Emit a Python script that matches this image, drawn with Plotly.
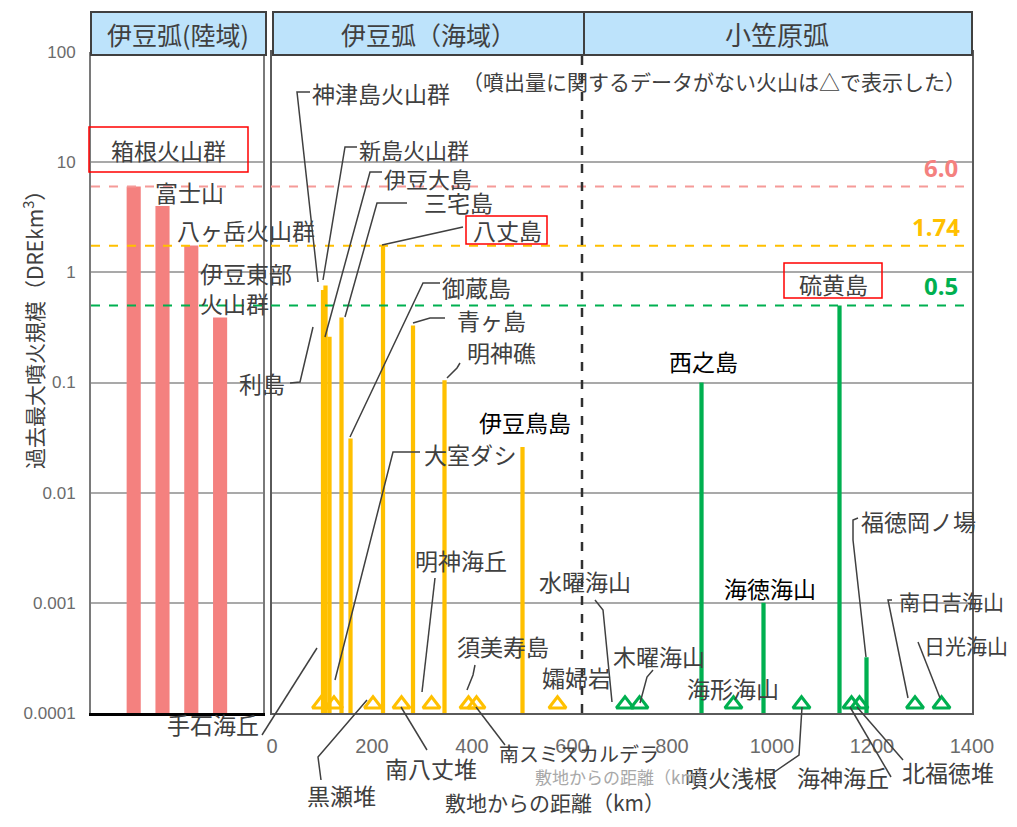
import math
import plotly.graph_objects as go

# ---------------- data ----------------
land_names = ["箱根火山群", "富士山", "八ヶ岳火山群", "伊豆東部火山群"]
land_dre = [6.0, 4.0, 1.75, 0.39]

izu_bar_names = ["神津島火山群", "新島火山群", "伊豆大島", "三宅島", "御蔵島",
                 "八丈島", "青ヶ島", "明神礁", "伊豆鳥島"]
izu_bar_km = [102, 107, 115, 139, 157, 222, 282, 345, 501]
izu_bar_dre = [0.69, 0.76, 0.26, 0.39, 0.031, 1.74, 0.33, 0.105, 0.026]

izu_tri_names = ["手石海丘", "大室ダシ", "黒瀬堆", "南八丈堆", "明神海丘",
                 "須美寿島", "南スミスカルデラ", "孀婦岩"]
izu_tri_km = [98, 124, 202, 259, 319, 393, 409, 571]

ogs_bar_names = ["西之島", "海徳海山", "硫黄島", "福徳岡ノ場"]
ogs_bar_km = [859, 983, 1135, 1189]
ogs_bar_dre = [0.1, 0.001, 0.5, 0.00032]

ogs_tri_names = ["水曜海山", "木曜海山", "海形海山", "噴火浅根", "海神海丘",
                 "北福徳堆", "南日吉海山", "日光海山"]
ogs_tri_km = [706, 735, 923, 1059, 1159, 1175, 1286, 1339]

ref_dre = [6.0, 1.74, 0.5]
ref_text = ["6.0", "1.74", "0.5"]

y_tickvals = [0.0001, 0.001, 0.01, 0.1, 1, 10, 100]
y_ticktext = ["0.0001", "0.001", "0.01", "0.1", "1", "10", "100"]
x_tickvals = [0, 200, 400, 600, 800, 1000, 1200, 1400]
arc_boundary_km = 620

# ---------------- styling / layout helpers ----------------
PAGE_W, PAGE_H = 1017, 827
BODY_MARGIN = 8                      # default page margin around the plot div
W, H = PAGE_W - 2 * BODY_MARGIN, PAGE_H - 2 * BODY_MARGIN
PINK = "#F4817F"
PINK_LINE = "#F59A98"
YELLOW = "#FFC000"
GREEN = "#00B050"
TXT = "#404040"
JP = "Noto Sans CJK JP, Noto Sans, sans-serif"
NARROW = "Liberation Sans Narrow, Arial Narrow, sans-serif"
NODATA_Y = 1.2e-4   # plotting level for "no data" triangles
LBL = 23


def px(x):
    """page pixel x -> paper fraction"""
    return (x - BODY_MARGIN) / W


def py(y):
    """page pixel y -> paper fraction"""
    return 1 - (y - BODY_MARGIN) / H


PLOT_TOP, PLOT_BOT = 52, 713
ydom = [py(PLOT_BOT), py(PLOT_TOP)]

fig = go.Figure()

fig.add_trace(go.Bar(x=land_names, y=land_dre, xaxis="x", yaxis="y",
                     marker=dict(color=PINK, line=dict(width=0)), width=0.49,
                     name="伊豆弧(陸域)", showlegend=False))
fig.add_trace(go.Bar(x=izu_bar_km, y=izu_bar_dre, xaxis="x2", yaxis="y2",
                     marker=dict(color=YELLOW, line=dict(width=0)), width=8.5,
                     hovertext=izu_bar_names,
                     name="伊豆弧(海域)", showlegend=False))
fig.add_trace(go.Bar(x=ogs_bar_km, y=ogs_bar_dre, xaxis="x2", yaxis="y2",
                     marker=dict(color=GREEN, line=dict(width=0)), width=8.5,
                     hovertext=ogs_bar_names,
                     name="小笠原弧", showlegend=False))
fig.add_trace(go.Scatter(x=izu_tri_km, y=[NODATA_Y] * len(izu_tri_km),
                         xaxis="x2", yaxis="y2", mode="markers",
                         hovertext=izu_tri_names, cliponaxis=False,
                         marker=dict(symbol="triangle-up-open", size=15,
                                     color=YELLOW, line=dict(width=3, color=YELLOW)),
                         showlegend=False))
fig.add_trace(go.Scatter(x=ogs_tri_km, y=[NODATA_Y] * len(ogs_tri_km),
                         xaxis="x2", yaxis="y2", mode="markers",
                         hovertext=ogs_tri_names, cliponaxis=False,
                         marker=dict(symbol="triangle-up-open", size=15,
                                     color=GREEN, line=dict(width=3, color=GREEN)),
                         showlegend=False))

# left panel category positions: centre of first bar at 133.7 px, spacing 28.8 px
L0, LSP = 133.7, 28.8
fig.update_layout(
    width=W, height=H, autosize=False,
    margin=dict(l=0, r=0, t=0, b=0, pad=0, autoexpand=False),
    paper_bgcolor="white", plot_bgcolor="white",
    barmode="overlay", showlegend=False,
    xaxis=dict(domain=[px(91), px(263)], type="category",
               range=[(91 - L0) / LSP, (263 - L0) / LSP],
               showticklabels=False, ticks="", showgrid=False, zeroline=False,
               showline=True, linecolor="#000000", linewidth=3, anchor="y",
               automargin=False),
    yaxis=dict(domain=ydom, type="log", range=[-4, 2], anchor="x",
               tickvals=y_tickvals, ticktext=y_ticktext, ticks="",
               ticklabelstandoff=10, automargin=False,
               tickfont=dict(family=NARROW, size=17, color="#6B6B6B"),
               showgrid=True, gridcolor="#A9A9A9", gridwidth=1.5,
               showline=True, linecolor="#7A7A7A", linewidth=2, mirror=True,
               zeroline=False),
    xaxis2=dict(domain=[px(272), px(972)], range=[0, 1400], anchor="y2",
                tickvals=x_tickvals, ticks="", ticklabelstandoff=14,
                automargin=False,
                tickfont=dict(family=NARROW, size=20, color="#6B6B6B"),
                showgrid=False, zeroline=False,
                showline=True, linecolor="#5A5A5A", linewidth=2, mirror=True),
    yaxis2=dict(domain=ydom, type="log", range=[-4, 2], anchor="x2",
                tickvals=y_tickvals, showticklabels=False, ticks="",
                automargin=False,
                showgrid=True, gridcolor="#A9A9A9", gridwidth=1.5,
                showline=True, linecolor="#5A5A5A", linewidth=2, mirror=True,
                zeroline=False),
)

shapes = []
# reference dashed lines
ref_colors = [PINK_LINE, YELLOW, GREEN]
for v, c in zip(ref_dre, ref_colors):
    shapes.append(dict(type="line", xref="paper", yref="y", x0=px(91), x1=px(972),
                       y0=v, y1=v, line=dict(color=c, width=2, dash="dash"),
                       layer="above"))
# arc boundary
shapes.append(dict(type="line", xref="x2", yref="paper", x0=arc_boundary_km,
                   x1=arc_boundary_km, y0=py(PLOT_BOT), y1=py(55),
                   line=dict(color="#303030", width=2.5, dash="dash"), layer="above"))
# header boxes
HB_T, HB_B = 12, 55
for x0, x1 in [(91, 266), (273, 972)]:
    shapes.append(dict(type="rect", xref="paper", yref="paper",
                       x0=px(x0), x1=px(x1), y0=py(HB_B), y1=py(HB_T),
                       fillcolor="#BDE3FB", line=dict(color="#404040", width=2),
                       layer="above"))
shapes.append(dict(type="line", xref="paper", yref="paper", x0=px(584), x1=px(584),
                   y0=py(HB_B), y1=py(HB_T), line=dict(color="#404040", width=2),
                   layer="above"))
# red boxes
for x0, x1, y0, y1 in [(89, 248, 127, 172), (466, 547, 216, 244), (784, 882, 263, 298)]:
    shapes.append(dict(type="rect", xref="paper", yref="paper",
                       x0=px(x0), x1=px(x1), y0=py(y1), y1=py(y0),
                       line=dict(color="#FF0000", width=1.5), layer="above"))

# leader lines (pixel layout positions)
leaders = [
    [(310, 92), (297, 92), (318, 282)],
    [(357, 147), (345, 147), (323, 280)],
    [(382, 172), (370, 172), (325, 337)],
    [(407, 203), (377, 203), (345, 317)],
    [(463, 227), (382, 245)],
    [(440, 283), (423, 283), (350, 437)],
    [(445, 318), (430, 318), (413, 323)],
    [(460, 363), (457, 368), (447, 378)],
    [(290, 383), (300, 382), (313, 327)],
    [(420, 452), (393, 452), (335, 680)],
    [(435, 578), (422, 692)],
    [(475, 665), (473, 675), (467, 690)],
    [(262, 735), (317, 648)],
    [(321, 780), (318, 757), (367, 700)],
    [(427, 750), (401, 707)],
    [(505, 745), (476, 707)],
    [(595, 600), (603, 610), (612, 702)],
    [(653, 670), (647, 677), (640, 703)],
    [(770, 775), (799, 755), (802, 707)],
    [(891, 777), (850, 707)],
    [(903, 760), (857, 707)],
    [(858, 518), (853, 520), (853, 540), (866, 657)],
    [(892, 600), (888, 600), (908, 698)],
    [(918, 642), (940, 698)],
]
for pts in leaders:
    path = "M " + " L ".join(f"{px(x):.5f},{py(y):.5f}" for x, y in pts)
    shapes.append(dict(type="path", xref="paper", yref="paper", path=path,
                       line=dict(color="#404040", width=1.5), layer="above"))

fig.update_layout(shapes=shapes)

ann = []


def label(text, x, y, size=LBL, color=TXT, anchor="left"):
    ann.append(dict(text=text, x=px(x), y=py(y), xref="paper", yref="paper",
                    xanchor=anchor, yanchor="middle", showarrow=False,
                    font=dict(family=JP, size=size, color=color)))


# headers
label("伊豆弧(陸域)", 178, 34, size=25, anchor="center")
label("伊豆弧（海域）", 428, 34, size=25, anchor="center")
label("小笠原弧", 777, 34, size=26, anchor="center")

# left panel labels
label(land_names[0], 168, 150, anchor="center")
label(land_names[1], 189, 192, anchor="center")
label(land_names[2], 175, 230)
label("伊豆東部", 198, 273)
label("火山群", 198, 303)

# Izu marine labels
label("利島", 237, 383)
label(izu_bar_names[0], 310, 93)
label(izu_bar_names[1], 357, 149, size=22)
label(izu_bar_names[2], 382, 178, size=22)
label(izu_bar_names[3], 422, 202)
label(izu_bar_names[5], 507, 230, anchor="center")
label(izu_bar_names[4], 440, 287)
label(izu_bar_names[6], 455, 320)
label(izu_bar_names[7], 465, 352)
label(izu_bar_names[8], 477, 422, color="#000000")
label(izu_tri_names[1], 422, 454)
label(izu_tri_names[4], 413, 560)
label(izu_tri_names[5], 455, 646)
label(izu_tri_names[7], 540, 677)
label(izu_tri_names[0], 165, 724)
label(izu_tri_names[2], 305, 795)
label(izu_tri_names[3], 383, 768)
label(izu_tri_names[6], 497, 753, size=20)

# Ogasawara labels
label(ogs_tri_names[0], 537, 581)
label(ogs_tri_names[1], 611, 656)
label(ogs_tri_names[2], 685, 688)
label(ogs_tri_names[3], 683, 777)
label(ogs_tri_names[4], 795, 777)
label(ogs_tri_names[5], 900, 772)
label(ogs_tri_names[6], 897, 601, size=21)
label(ogs_tri_names[7], 922, 645, size=21)
label(ogs_bar_names[0], 667, 361, color="#000000")
label(ogs_bar_names[1], 722, 588, color="#000000")
label(ogs_bar_names[2], 833, 284, anchor="center")
label(ogs_bar_names[3], 859, 521)

# notes and titles
label("（噴出量に関するデータがない火山は△で表示した）", 714, 81, size=21, anchor="center")
label("敷地からの距離（km）", 533, 776, size=17, color="#A8A8A8")
label("敷地からの距離（km）", 555, 802, size=21, anchor="center")
ann.append(dict(text="過去最大噴火規模（DREkm<sup>3</sup>）", x=px(33), y=py(325),
                xref="paper", yref="paper", xanchor="center", yanchor="middle",
                textangle=-90, showarrow=False,
                font=dict(family=JP, size=21, color=TXT)))

# reference value labels (annotations on a log axis take log10 positions)
for t, v, c, xr in zip(ref_text, ref_dre, [PINK, YELLOW, GREEN], [960, 962, 960]):
    ann.append(dict(text=f"<b>{t}</b>", x=px(xr), y=math.log10(v), xref="paper", yref="y",
                    xanchor="right", yanchor="bottom", yshift=1, showarrow=False,
                    font=dict(family="Noto Sans, sans-serif", size=24, color=c)))

fig.update_layout(annotations=ann)

fig.write_html("out.html")
